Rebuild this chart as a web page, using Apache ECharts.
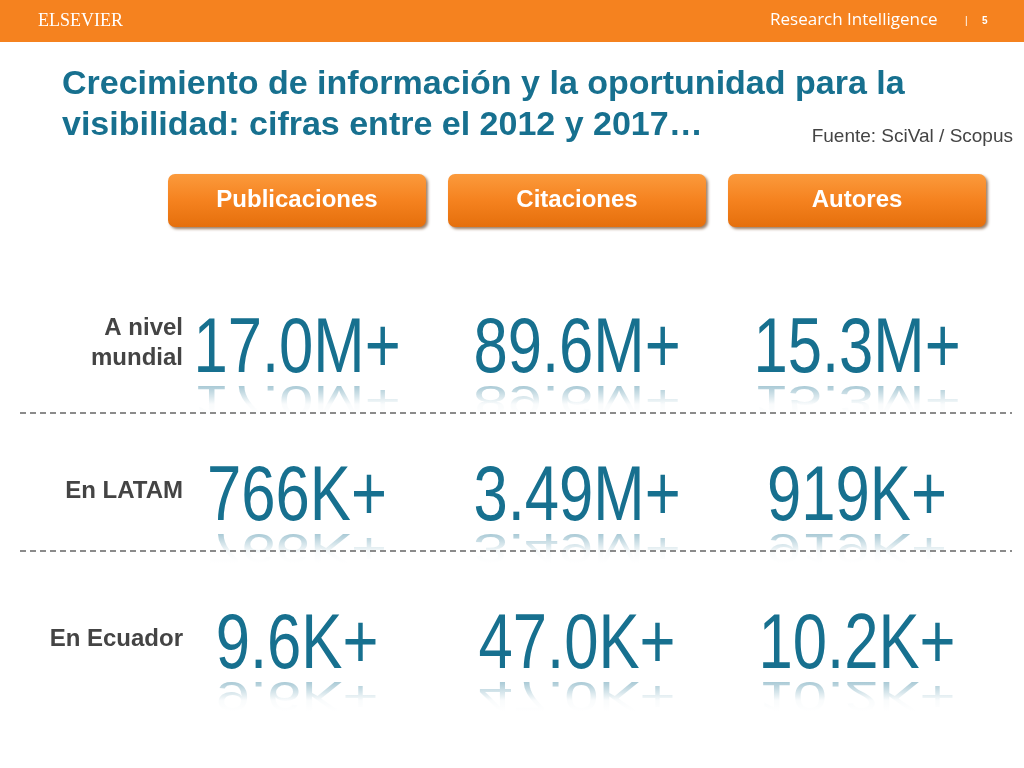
<!DOCTYPE html>
<html><head><meta charset="utf-8">
<script src="https://cdn.jsdelivr.net/npm/echarts@6/dist/echarts.min.js"></script>
<style>html,body{margin:0;padding:0;background:#fff}#c{width:1024px;height:768px}</style>
</head><body><div id="c"></div>
<script>
const categories = ['Publicaciones', 'Citaciones', 'Autores'];
const rows = ['A nivel\nmundial', 'En LATAM', 'En Ecuador'];
const valuesMundial = ['17.0M+', '89.6M+', '15.3M+'];
const valuesLatam = ['766K+', '3.49M+', '919K+'];
const valuesEcuador = ['9.6K+', '47.0K+', '10.2K+'];
const allRows = [valuesMundial, valuesLatam, valuesEcuador];

const data = [];
allRows.forEach((r, ri) => r.forEach((v, ci) => data.push([ci, ri + 0.5, v])));
const rowData = rows.map((r, ri) => [0, ri + 0.5, r]);

const blue = '#17708f';
const chart = echarts.init(document.getElementById('c'));
chart.setOption({
  backgroundColor: '#fff',
  animation: false,
  grid: { left: 157, right: 27, top: 273, bottom: 51 },
  xAxis: {
    type: 'category', data: categories, position: 'top',
    axisLine: { show: false }, axisTick: { show: false }, splitLine: { show: false },
    axisLabel: {
      margin: 46, color: '#fff', fontFamily: 'Liberation Sans, Arial', fontWeight: 'bold', fontSize: 24,
      backgroundColor: new echarts.graphic.LinearGradient(0, 0, 0, 1, [
        { offset: 0, color: '#fb9a3c' }, { offset: 0.5, color: '#f5821f' }, { offset: 1, color: '#e56f0c' }]),
      borderRadius: 7, width: 258, height: 53, lineHeight: 53, align: 'center', verticalAlign: 'bottom',
      shadowColor: 'rgba(90,40,0,0.6)', shadowBlur: 3, shadowOffsetX: 2, shadowOffsetY: 2
    }
  },
  yAxis: { type: 'value', min: 0, max: 3, inverse: true, show: false },
  series: [
    {
      type: 'custom', data: data,
      renderItem: function (params, api) {
        const p = api.coord([api.value(0), api.value(1)]);
        const txt = data[params.dataIndex][2];
        const font = '78px "Liberation Sans", Arial';
        return {
          type: 'group', x: p[0], y: p[1] + 3, scaleX: 0.79,
          children: [
            { type: 'text', x: 0, y: 0, style: { text: txt, font: font, fill: blue, align: 'center', verticalAlign: 'middle' } },
            { type: 'text', x: 0, y: 48, scaleY: -0.55, style: { text: txt, font: font, fill: blue, opacity: 0.5, align: 'center', verticalAlign: 'middle' } },
            { type: 'rect', shape: { x: -170, y: 29, width: 340, height: 36 },
              style: { fill: new echarts.graphic.LinearGradient(0, 0, 0, 1, [
                { offset: 0, color: 'rgba(255,255,255,0)' }, { offset: 0.7, color: 'rgba(255,255,255,0.95)' },
                { offset: 1, color: 'rgba(255,255,255,1)' }]) } }
          ]
        };
      }
    },
    {
      type: 'custom', data: rowData,
      renderItem: function (params, api) {
        const p = api.coord([api.value(0), api.value(1)]);
        return { type: 'text', x: p[0] - 114, y: p[1] - 4,
          style: { text: rowData[params.dataIndex][2], font: 'bold 24px "Liberation Sans", Arial', fill: '#444',
            align: 'right', verticalAlign: 'middle', lineHeight: 30 } };
      }
    }
  ],
  graphic: [
    { type: 'rect', shape: { x: 0, y: 0, width: 1024, height: 42 }, style: { fill: '#f5821f' } },
    { type: 'text', x: 38, y: 21, style: { text: 'ELSEVIER', font: '18px "Liberation Serif", serif', fill: '#fff', verticalAlign: 'middle' } },
    { type: 'text', x: 770, y: 20, style: { text: 'Research Intelligence', font: '17px "Open Sans", sans-serif', fill: '#fff', verticalAlign: 'middle' } },
    { type: 'text', x: 965, y: 21, style: { text: '|', font: '10px sans-serif', fill: '#fff', verticalAlign: 'middle' } },
    { type: 'text', x: 982, y: 21, style: { text: '5', font: 'bold 10px sans-serif', fill: '#fff', verticalAlign: 'middle' } },
    { type: 'text', x: 62, y: 85, style: { text: 'Crecimiento de información y la oportunidad para la', font: 'bold 34px "Liberation Sans", Arial', fill: blue, verticalAlign: 'middle' } },
    { type: 'text', x: 62, y: 126, style: { text: 'visibilidad: cifras entre el 2012 y 2017…', font: 'bold 34px "Liberation Sans", Arial', fill: blue, verticalAlign: 'middle' } },
    { type: 'text', x: 1013, y: 137, style: { text: 'Fuente: SciVal / Scopus', font: '19px "Liberation Sans", Arial', fill: '#444', align: 'right', verticalAlign: 'middle' } },
    { type: 'line', z: 100, shape: { x1: 20, y1: 413, x2: 1012, y2: 413 }, style: { stroke: '#666', lineWidth: 1.5, lineDash: [6, 4] } },
    { type: 'line', z: 100, shape: { x1: 20, y1: 551, x2: 1012, y2: 551 }, style: { stroke: '#666', lineWidth: 1.5, lineDash: [6, 4] } }
  ]
});
</script></body></html>
